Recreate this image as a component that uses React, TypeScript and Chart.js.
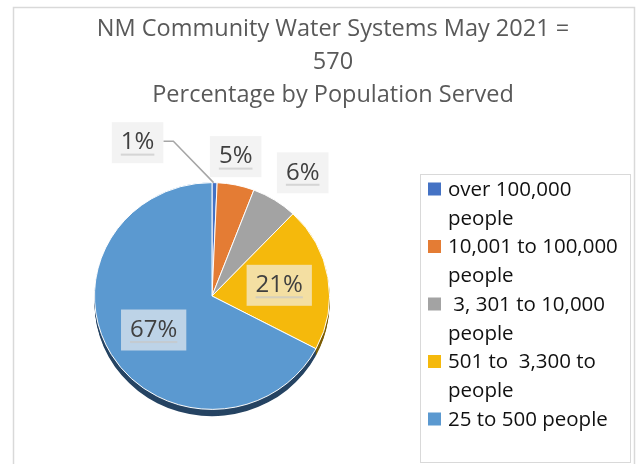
import React, { useEffect, useRef } from "react";
import { Chart, registerables } from "chart.js";

Chart.register(...registerables);

const TITLE_LINES = ["NM Community Water Systems May 2021 =", "570", "Percentage by Population Served"];
const CATEGORIES = [
  "over 100,000 people",
  "10,001 to 100,000 people",
  " 3, 301 to 10,000 people",
  "501 to  3,300 to people",
  "25 to 500 people",
];
const LEGEND_LINES = [
  ["over 100,000", "people"],
  ["10,001 to 100,000", "people"],
  [" 3, 301 to 10,000", "people"],
  ["501 to  3,300 to", "people"],
  ["25 to 500 people"],
];
const VALUES = [0.7, 5.1, 6.3, 20.6, 67.3];
const COLORS = ["#4472c4", "#e47c34", "#a3a3a3", "#f5b90c", "#5b99d0"];
const SIDE_COLORS = ["#223a66", "#7a4016", "#555555", "#7d5e05", "#264463"];

const FONT = "'Open Sans', Lato, sans-serif";
const TILT = 0.965;
const DEPTH = 7;

const decorPlugin = {
  id: "decor",
  beforeDraw(chart: any) {
    const ctx = chart.ctx as CanvasRenderingContext2D;
    ctx.save();
    ctx.fillStyle = "#ffffff";
    ctx.fillRect(0, 0, chart.width, chart.height);
    // outer frame
    ctx.strokeStyle = "#d9d9d9";
    ctx.lineWidth = 1.5;
    ctx.beginPath();
    ctx.moveTo(13.5, chart.height + 2);
    ctx.lineTo(13.5, 7.5);
    ctx.lineTo(634.5, 7.5);
    ctx.lineTo(634.5, chart.height + 2);
    ctx.stroke();
    // title
    ctx.fillStyle = "#595959";
    ctx.font = `23.5px ${FONT}`;
    ctx.textAlign = "center";
    ctx.textBaseline = "middle";
    const ty = [29, 62, 95];
    TITLE_LINES.forEach((t, i) => ctx.fillText(t, 333, ty[i]));
    // legend
    ctx.strokeStyle = "#d9d9d9";
    ctx.lineWidth = 1;
    ctx.strokeRect(420.5, 174.5, 210, 288);
    ctx.font = `20.5px ${FONT}`;
    ctx.textAlign = "left";
    let y = 189;
    LEGEND_LINES.forEach((lines, i) => {
      ctx.fillStyle = COLORS[i];
      ctx.fillRect(428, y - 6.5, 13, 13);
      ctx.fillStyle = "#111111";
      lines.forEach((l) => {
        ctx.fillText(l, 448, y + 1);
        y += 28.75;
      });
    });
    ctx.restore();
  },
  beforeDatasetsDraw(chart: any) {
    const ctx = chart.ctx as CanvasRenderingContext2D;
    const meta = chart.getDatasetMeta(0);
    const a0 = meta.data[0];
    const cx = a0.x, cy = a0.y;
    ctx.save();
    ctx.translate(cx, cy);
    ctx.scale(1, TILT);
    ctx.translate(-cx, -cy);
    // 3D side / depth
    meta.data.forEach((arc: any, i: number) => {
      const p = arc.getProps(["x", "y", "startAngle", "endAngle", "outerRadius"], true);
      for (let d = DEPTH; d > 0; d -= 1) {
        ctx.beginPath();
        ctx.moveTo(p.x, p.y + d);
        ctx.arc(p.x, p.y + d, p.outerRadius, p.startAngle, p.endAngle);
        ctx.closePath();
        ctx.fillStyle = SIDE_COLORS[i];
        ctx.fill();
      }
    });
  },
  afterDatasetsDraw(chart: any) {
    const ctx = chart.ctx as CanvasRenderingContext2D;
    ctx.restore();
    const meta = chart.getDatasetMeta(0);
    const total = VALUES.reduce((a, b) => a + b, 0);
    ctx.save();
    ctx.font = `24px ${FONT}`;
    ctx.textAlign = "center";
    ctx.textBaseline = "middle";
    meta.data.forEach((arc: any, i: number) => {
      const p = arc.getProps(["x", "y", "startAngle", "endAngle", "outerRadius"], true);
      const pct = (VALUES[i] / total) * 100;
      const text = Math.round(pct) + "%";
      const mid = (p.startAngle + p.endAngle) / 2;
      const dx = Math.cos(mid), dy = Math.sin(mid);
      const R = p.outerRadius;
      const tw = ctx.measureText(text).width;
      const bw = tw + 18, bh = 41;
      let lx: number, ly: number;
      let bg = "rgba(242,242,242,0.65)";
      if (pct >= 15) {
        lx = p.x + dx * R * 0.58;
        ly = p.y + dy * R * 0.58 * TILT;
      } else {
        const ex = p.x + dx * R;
        const ey = p.y + dy * R * TILT;
        bg = "rgba(242,242,242,0.9)";
        if (pct < 2) {
          lx = ex - 77;
          ly = ey - 40;
          ctx.strokeStyle = "#a6a6a6";
          ctx.lineWidth = 1.5;
          ctx.beginPath();
          ctx.moveTo(ex - 1, ey);
          ctx.lineTo(lx + bw / 2 + 10, ly - 1.5);
          ctx.lineTo(lx + bw / 2, ly - 1.5);
          ctx.stroke();
        } else {
          const sx = Math.sign(dx) * Math.min(1, Math.max(0, (Math.abs(dx) - 0.2) / 0.3));
          lx = ex + dx * 8 + sx * bw / 2 - 2;
          ly = ey + dy * 8 + Math.sign(dy) * bh / 2;
        }
      }
      ctx.fillStyle = bg;
      ctx.fillRect(lx - bw / 2, ly - bh / 2, bw, bh);
      ctx.fillStyle = "rgba(200,200,200,0.7)";
      ctx.fillRect(lx - tw / 2, ly + 11, tw, 2);
      ctx.fillStyle = "#404040";
      ctx.fillText(text, lx, ly);
    });
    ctx.restore();
  },
};

export default function App() {
  const ref = useRef<HTMLCanvasElement | null>(null);
  useEffect(() => {
    if (!ref.current) return;
    const chart = new Chart(ref.current, {
      type: "pie",
      data: {
        labels: CATEGORIES,
        datasets: [
          {
            data: VALUES,
            backgroundColor: COLORS,
            borderColor: "#ffffff",
            borderWidth: 1,
          },
        ],
      },
      options: {
        responsive: false,
        animation: false,
        devicePixelRatio: 1,
        layout: { padding: { left: 94, right: 311, top: 178, bottom: 50 } },
        plugins: {
          legend: { display: false },
          title: { display: false },
          tooltip: { enabled: false },
        },
      },
      plugins: [decorPlugin],
    });
    return () => chart.destroy();
  }, []);
  return (
    <div style={{ position: "fixed", left: 0, top: 0, width: 641, height: 464 }}>
      <canvas ref={ref} width={641} height={464} style={{ width: 641, height: 464 }} />
    </div>
  );
}
